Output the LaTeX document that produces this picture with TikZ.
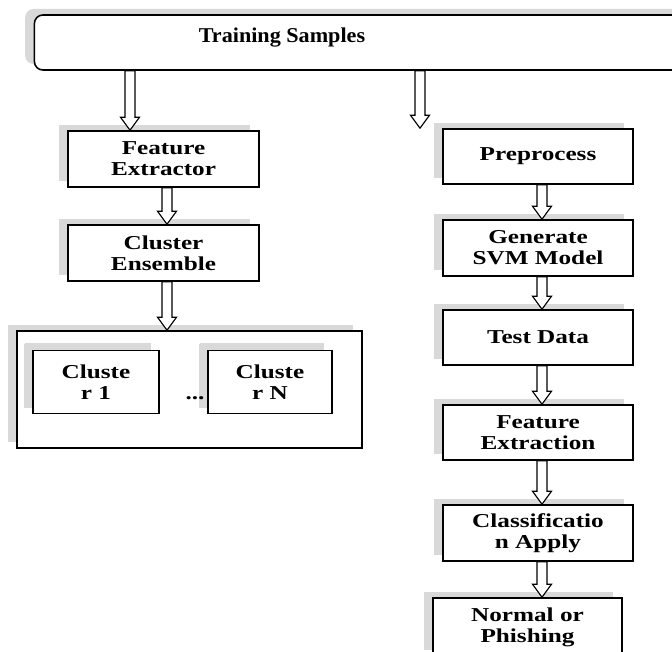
\documentclass[tikz,border=0pt]{standalone}
\usepackage{fontspec}
\setmainfont{Liberation Serif}
\newfontfamily\widefont[FakeStretch=1.28]{Liberation Serif}
\newfontfamily\titlefont[FakeStretch=1.05]{Liberation Serif}
\usetikzlibrary{calc}
\usetikzlibrary{shadows}

% hollow block arrow: #1 column coordinate, #2 source node, #3 target node
\newcommand{\hollowarrow}[3]{%
  \draw[hollow] ($(#2.south -| #1)+(-5,0)$) -- ($(#3.north -| #1)+(-5,-13)$)
    -- ($(#3.north -| #1)+(-9.5,-13)$) -- (#3.north -| #1)
    -- ($(#3.north -| #1)+(9.5,-13)$) -- ($(#3.north -| #1)+(5,-13)$)
    -- ($(#2.south -| #1)+(5,0)$) -- cycle;}

\begin{document}
\begin{tikzpicture}[x=0.025cm, y=-0.025cm]
        \tikzstyle{every node}=[font=\widefont\bfseries\fontsize{14}{15}\selectfont, align=center]
        \tikzstyle{box}=[draw, line width=1.1pt, fill=white, minimum width=4.775cm, minimum height=1.4cm,
          general shadow={fill=gray!30, shadow xshift=-0.23cm, shadow yshift=0.15cm}]
        \tikzstyle{hollow}=[draw, line width=0.8pt, fill=white]
        \fill[white] (0,0) rectangle (672,652);
        \clip (0,0) rectangle (672,652);
        \coordinate (colA) at (130,0);
        \coordinate (colB) at (420,0);
        \coordinate (colL) at (167,0);
        \coordinate (colR) at (542,0);
        \node [box, rounded corners=6pt, minimum width=16.375cm, minimum height=1.375cm,
          general shadow={fill=gray!30, shadow xshift=-0.13cm, shadow yshift=0.13cm}] (ts) at (362,42.5) {};
        \node [font=\titlefont\bfseries\fontsize{15}{16}\selectfont] (tstext) at (282,38) {Training Samples};
        % left branch
        \node [box] (fe) at (163.5,159) {Feature\\Extractor};
        \node [box] (ce) at (163.5,253) {Cluster\\Ensemble};
        \node [box, minimum width=8.625cm, minimum height=2.925cm] (clusters) at (189.5,389.5) {};
        \node [box, minimum width=3.15cm, minimum height=1.575cm,
          general shadow={fill=gray!30, shadow xshift=-0.2cm, shadow yshift=0.18cm}] (c1) at (96,382) {Cluste\\r 1};
        \node [box, minimum width=3.1cm, minimum height=1.575cm,
          general shadow={fill=gray!30, shadow xshift=-0.2cm, shadow yshift=0.18cm}] (cn) at (270,382) {Cluste\\r N};
        \node (dots) at (195,398) {...};
        % right branch
        \node [box, minimum width=4.75cm, minimum height=1.375cm] (pre) at (538,156.5) {Preprocess};
        \node [box, minimum width=4.75cm] (svm) at (538,248) {Generate\\SVM Model};
        \node [box, minimum width=4.75cm, minimum height=1.375cm] (test) at (538,337.5) {Test Data};
        \node [box, minimum width=4.75cm, minimum height=1.375cm] (fx) at (538,432.5) {Feature\\Extraction};
        \node [box, minimum width=4.75cm] (cls) at (538,533) {Classificatio\\n Apply};
        \node [box, minimum width=4.725cm, minimum height=1.45cm] (out) at (527.5,627) {Normal or\\Phishing};
        \hollowarrow{colA}{ts}{fe}
        \hollowarrow{colB}{ts}{pre}
        \hollowarrow{colL}{fe}{ce}
        \hollowarrow{colL}{ce}{clusters}
        \hollowarrow{colR}{pre}{svm}
        \hollowarrow{colR}{svm}{test}
        \hollowarrow{colR}{test}{fx}
        \hollowarrow{colR}{fx}{cls}
        \hollowarrow{colR}{cls}{out}
      \end{tikzpicture}
\end{document}
